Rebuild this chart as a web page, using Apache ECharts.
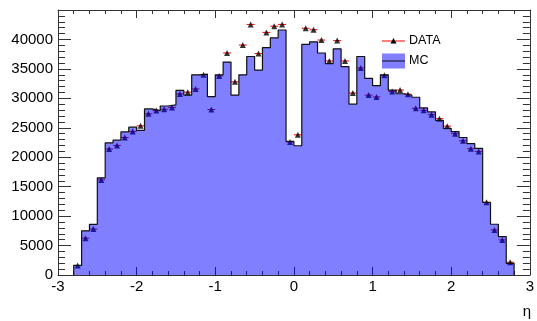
<!DOCTYPE html>
<html>
<head>
<meta charset="utf-8">
<script src="https://cdn.jsdelivr.net/npm/echarts@6/dist/echarts.min.js"></script>
<style>
  html, body { margin: 0; padding: 0; background: #fff; }
  #chart { width: 537px; height: 321px; }
</style>
</head>
<body>
<div id="chart"></div>
<script>
// bin edges in eta (56 bins of 0.1)
const etaEdges = [
  -2.8, -2.7, -2.6, -2.5, -2.4, -2.3, -2.2, -2.1, -2.0, -1.9,
  -1.8, -1.7, -1.6, -1.5, -1.4, -1.3, -1.2, -1.1, -1.0, -0.9,
  -0.8, -0.7, -0.6, -0.5, -0.4, -0.3, -0.2, -0.1, 0.0, 0.1,
  0.2, 0.3, 0.4, 0.5, 0.6, 0.7, 0.8, 0.9, 1.0, 1.1,
  1.2, 1.3, 1.4, 1.5, 1.6, 1.7, 1.8, 1.9, 2.0, 2.1,
  2.2, 2.3, 2.4, 2.5, 2.6, 2.7, 2.8
];

// MC histogram contents
const mcCounts = [
  1650, 7500, 8600, 16500, 22450, 22900, 24300, 25100, 24550, 28200,
  27900, 28700, 28900, 31350, 30550, 34000, 34100, 30300, 34000, 36150,
  30550, 34000, 37100, 34800, 38600, 40250, 41600, 22700, 21950, 39150,
  39600, 37700, 35900, 38400, 35400, 29000, 37100, 33400, 32150, 33990,
  31400, 30780, 30520, 30180, 28370, 27690, 26270, 24900, 24350, 23350,
  22300, 21500, 12310, 8620, 6520, 1990
];

// DATA points
const dataCounts = [
  1600, 6250, 7800, 16150, 21400, 22000, 23350, 24350, 25330, 27370,
  27920, 28150, 28450, 30750, 31050, 31600, 34000, 28100, 33800, 37700,
  32800, 39050, 42550, 37600, 41200, 42250, 42550, 22600, 23800, 41900,
  41650, 39900, 36350, 39800, 36350, 30900, 35150, 30550, 30240, 33900,
  31150, 31400, 30700, 28310, 27970, 27230, 26550, 25280, 24000, 22810,
  21450, 20990, 12370, 7660, 5960, 2160
];

const xTicks = [-3, -2, -1, 0, 1, 2, 3];
const yTicks = [0, 5000, 10000, 15000, 20000, 25000, 30000, 35000, 40000];

const chart = echarts.init(document.getElementById('chart'));
const FONT = 'Liberation Sans';
const AXIS = '#333';

// step outline for the MC histogram
const mcStep = [[etaEdges[0], 0]];
mcCounts.forEach((v, i) => {
  mcStep.push([etaEdges[i], v]);
  mcStep.push([etaEdges[i + 1], v]);
});
mcStep.push([etaEdges[etaEdges.length - 1], 0]);

const dataPts = dataCounts.map((v, i) => [(etaEdges[i] + etaEdges[i + 1]) / 2, v, etaEdges[i], etaEdges[i + 1]]);

const xBase = {
  type: 'value', min: xTicks[0], max: xTicks[xTicks.length - 1], interval: 1,
  splitLine: { show: false },
  axisLine: { show: true, onZero: false, lineStyle: { color: AXIS, width: 1 } },
  axisTick: { show: true, inside: true, length: 8, lineStyle: { color: AXIS } },
  minorTick: { show: true, splitNumber: 5, length: 4, lineStyle: { color: AXIS } }
};
const yBase = {
  type: 'value', min: 0, max: 45000, interval: 5000,
  splitLine: { show: false },
  axisLine: { show: true, onZero: false, lineStyle: { color: AXIS, width: 1 } },
  axisTick: { show: true, inside: true, length: 13, lineStyle: { color: AXIS } },
  minorTick: { show: true, splitNumber: 5, length: 7, lineStyle: { color: AXIS } }
};

chart.setOption({
  animation: false,
  backgroundColor: '#fff',
  grid: { left: 58, right: 5, top: 10, bottom: 46 },
  xAxis: [
    Object.assign({}, xBase, {
      position: 'bottom',
      axisLabel: { color: '#000', fontFamily: FONT, fontSize: 15, margin: 4,
        formatter: v => xTicks.includes(v) ? String(v) : '' }
    }),
    Object.assign({}, xBase, { position: 'top', axisLabel: { show: false } })
  ],
  yAxis: [
    Object.assign({}, yBase, {
      position: 'left',
      axisLabel: { color: '#000', fontFamily: FONT, fontSize: 15, margin: 5, showMaxLabel: false,
        formatter: v => yTicks.includes(v) ? String(v) : '' }
    }),
    Object.assign({}, yBase, { position: 'right', axisLabel: { show: false } })
  ],
  series: [
    {
      name: 'DATA errors',
      type: 'custom',
      z: 1,
      silent: true,
      data: dataPts,
      renderItem: (params, api) => {
        const y = api.value(1);
        const a = api.coord([api.value(2), y]);
        const b = api.coord([api.value(3), y]);
        return {
          type: 'line',
          shape: { x1: a[0], y1: a[1], x2: b[0], y2: b[1] },
          style: { stroke: '#ff0000', lineWidth: 1 }
        };
      }
    },
    {
      name: 'DATA',
      type: 'scatter',
      z: 2,
      symbol: 'triangle',
      symbolSize: [6, 6],
      itemStyle: { color: '#000' },
      data: dataPts.map(p => [p[0], p[1]])
    },
    {
      name: 'MC',
      type: 'line',
      z: 3,
      data: mcStep,
      showSymbol: false,
      symbol: 'none',
      lineStyle: { color: '#111', width: 1.2 },
      areaStyle: { color: 'rgba(0,0,255,0.5)', opacity: 1, origin: 0 }
    }
  ],
  graphic: [
    { type: 'line', shape: { x1: 382, y1: 41, x2: 405, y2: 41 }, style: { stroke: '#ff0000', lineWidth: 1 } },
    { type: 'polygon', shape: { points: [[393.5, 38], [390.5, 43.5], [396.5, 43.5]] }, style: { fill: '#000' } },
    { type: 'text', x: 409, y: 41, style: { text: 'DATA', font: '12.5px "Liberation Sans"', fill: '#000', verticalAlign: 'middle' } },
    { type: 'rect', shape: { x: 382, y: 53.5, width: 23, height: 15 }, style: { fill: 'rgba(0,0,255,0.5)' } },
    { type: 'line', shape: { x1: 382, y1: 61, x2: 405, y2: 61 }, style: { stroke: '#111', lineWidth: 1 } },
    { type: 'text', x: 409, y: 61, style: { text: 'MC', font: '12.5px "Liberation Sans"', fill: '#000', verticalAlign: 'middle' } },
    { type: 'text', x: 527, y: 312, style: { text: 'η', font: '15px "Liberation Sans"', fill: '#000', align: 'center', verticalAlign: 'middle' } }
  ]
});
</script>
</body>
</html>
